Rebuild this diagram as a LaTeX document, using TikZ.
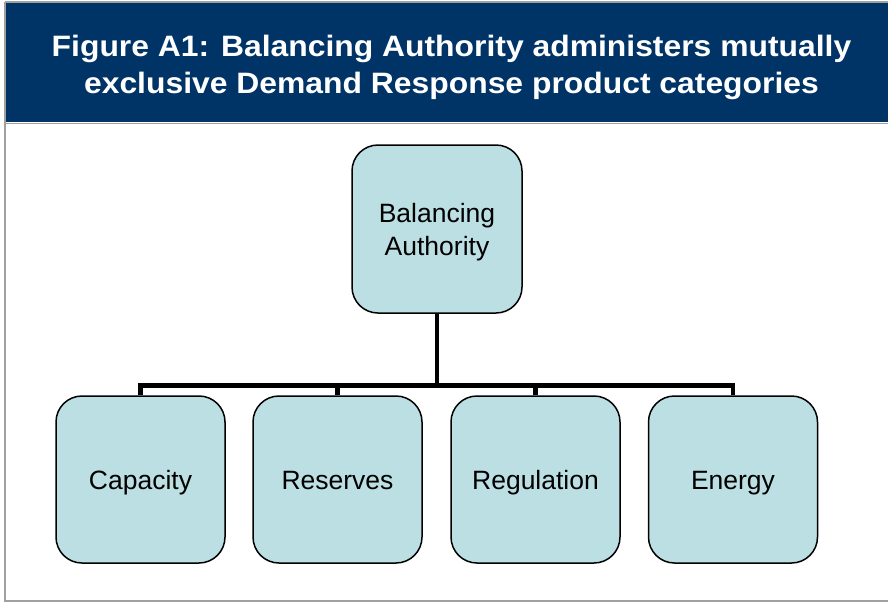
\documentclass[tikz,border=0pt]{standalone}
\usepackage{fontspec}
\setmainfont{Liberation Sans}
\newfontfamily\titlefont[FakeStretch=1.08]{Liberation Sans}
\definecolor{band}{RGB}{0,51,102}
\definecolor{boxfill}{RGB}{187,223,227}
\definecolor{frame}{RGB}{160,160,160}
\tikzset{
  orgbox/.style={draw=black, line width=1.5pt, fill=boxfill, rounded corners=26pt,
    minimum width=169pt, minimum height=167pt, align=center, inner sep=0pt,
    font=\fontsize{26.5}{33}\selectfont},
  leaf/.style={orgbox, text height=19pt, text depth=0pt},
  conn/.style={draw=black, line width=4.5pt},
  titletext/.style={text=white, font=\titlefont\bfseries\fontsize{29.5}{36.5}\selectfont, align=center}
}
\begin{document}
\begin{tikzpicture}[x=1pt,y=-1pt]
\useasboundingbox (0,0) rectangle (888,603);
\fill[white] (0,0) rectangle (888,603);
% frame
\fill[band] (5,3) rectangle (888,122);
\draw[frame, line width=1.5pt] (5,2) -- (888,2);
\draw[frame, line width=1.5pt] (5,2) -- (5,601) -- (888,601);
\draw[frame, line width=1.5pt] (5,123.5) -- (888,123.5);
\node[titletext] (title) at (451.5,67.5) {Figure A1: Balancing Authority administers mutually\\exclusive Demand Response product categories};
% boxes
\node[orgbox, minimum width=170pt, minimum height=168pt, text height=52pt, text depth=0pt] (ba) at (437,229) {Balancing\\Authority};
\node[leaf] (c1) at (140.5,479.5) {Capacity};
\node[leaf] (c2) at (337.5,479.5) {Reserves};
\node[leaf] (c3) at (535.5,479.5) {Regulation};
\node[leaf] (c4) at (733,479.5) {Energy};
% connectors
\coordinate (bus) at (437,385.5);
\draw[conn] (ba.south) -- (bus);
\draw[conn] (c1.north) -- (c1.north |- bus) -- (c4.north |- bus) -- (c4.north);
\draw[conn] (c2.north) -- (c2.north |- bus);
\draw[conn] (c3.north) -- (c3.north |- bus);
\end{tikzpicture}
\end{document}
